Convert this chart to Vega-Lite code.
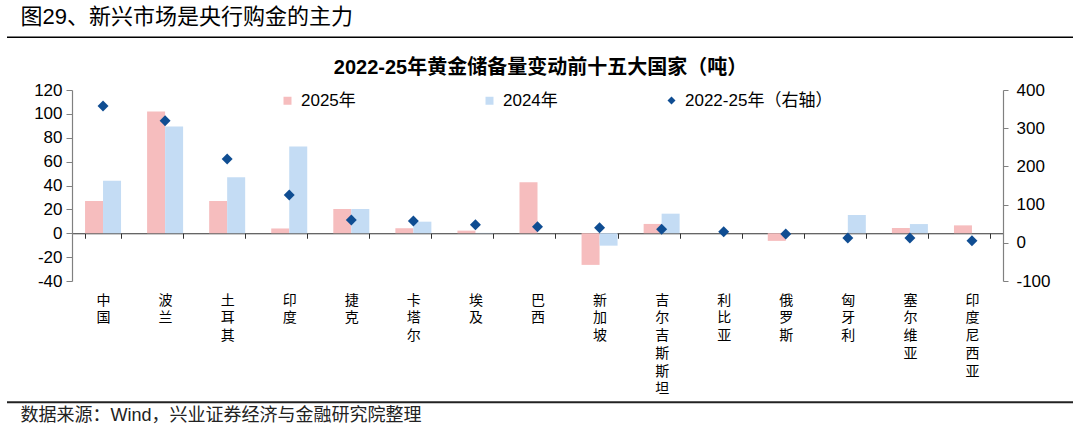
{
  "$schema": "https://vega.github.io/schema/vega-lite/v6.json",
  "width": 1066,
  "height": 191,
  "autosize": {"type": "none"},
  "padding": {"left": 7, "top": 90, "right": 7, "bottom": 151},
  "background": "white",
  "config": {
    "view": {"stroke": null},
    "font": "Liberation Sans, Noto Sans CJK SC",
    "axis": {"labelFont": "Liberation Sans, Noto Sans CJK SC", "titleFont": "Liberation Sans, Noto Sans CJK SC"},
    "legend": {"labelFont": "Liberation Sans, Noto Sans CJK SC"}
  },
  "datasets": {
    "bars": [
      {"country": "中国", "series": "2025年", "value": 27},
      {"country": "中国", "series": "2024年", "value": 44},
      {"country": "波兰", "series": "2025年", "value": 102},
      {"country": "波兰", "series": "2024年", "value": 89.5},
      {"country": "土耳其", "series": "2025年", "value": 27},
      {"country": "土耳其", "series": "2024年", "value": 47},
      {"country": "印度", "series": "2025年", "value": 4},
      {"country": "印度", "series": "2024年", "value": 72.6},
      {"country": "捷克", "series": "2025年", "value": 20.3},
      {"country": "捷克", "series": "2024年", "value": 20.3},
      {"country": "卡塔尔", "series": "2025年", "value": 4.2},
      {"country": "卡塔尔", "series": "2024年", "value": 9.7},
      {"country": "埃及", "series": "2025年", "value": 2.2},
      {"country": "埃及", "series": "2024年", "value": 0.3},
      {"country": "巴西", "series": "2025年", "value": 42.7},
      {"country": "巴西", "series": "2024年", "value": 0},
      {"country": "新加坡", "series": "2025年", "value": -26.5},
      {"country": "新加坡", "series": "2024年", "value": -10.4},
      {"country": "吉尔吉斯斯坦", "series": "2025年", "value": 7.8},
      {"country": "吉尔吉斯斯坦", "series": "2024年", "value": 16.4},
      {"country": "利比亚", "series": "2025年", "value": 0},
      {"country": "利比亚", "series": "2024年", "value": 0},
      {"country": "俄罗斯", "series": "2025年", "value": -6.4},
      {"country": "俄罗斯", "series": "2024年", "value": 0},
      {"country": "匈牙利", "series": "2025年", "value": 0},
      {"country": "匈牙利", "series": "2024年", "value": 15.3},
      {"country": "塞尔维亚", "series": "2025年", "value": 4.4},
      {"country": "塞尔维亚", "series": "2024年", "value": 7.7},
      {"country": "印度尼西亚", "series": "2025年", "value": 6.6},
      {"country": "印度尼西亚", "series": "2024年", "value": 0}
    ],
    "pts": [
      {"country": "中国", "s": "2022-25年（右轴）", "value": 358},
      {"country": "波兰", "s": "2022-25年（右轴）", "value": 319.6},
      {"country": "土耳其", "s": "2022-25年（右轴）", "value": 219.4},
      {"country": "印度", "s": "2022-25年（右轴）", "value": 125},
      {"country": "捷克", "s": "2022-25年（右轴）", "value": 59.7},
      {"country": "卡塔尔", "s": "2022-25年（右轴）", "value": 57},
      {"country": "埃及", "s": "2022-25年（右轴）", "value": 47.4},
      {"country": "巴西", "s": "2022-25年（右轴）", "value": 42.2},
      {"country": "新加坡", "s": "2022-25年（右轴）", "value": 39.5},
      {"country": "吉尔吉斯斯坦", "s": "2022-25年（右轴）", "value": 35.3},
      {"country": "利比亚", "s": "2022-25年（右轴）", "value": 29},
      {"country": "俄罗斯", "s": "2022-25年（右轴）", "value": 23},
      {"country": "匈牙利", "s": "2022-25年（右轴）", "value": 12.6},
      {"country": "塞尔维亚", "s": "2022-25年（右轴）", "value": 12.6},
      {"country": "印度尼西亚", "s": "2022-25年（右轴）", "value": 5.5}
    ]
  },
  "layer": [
    {
      "layer": [
        {
          "data": {"name": "bars"},
          "mark": {"type": "bar"},
          "encoding": {
            "x": {
              "field": "country",
              "type": "nominal",
              "sort": null,
              "scale": {
                "domain": ["中国", "波兰", "土耳其", "印度", "捷克", "卡塔尔", "埃及", "巴西", "新加坡", "吉尔吉斯斯坦", "利比亚", "俄罗斯", "匈牙利", "塞尔维亚", "印度尼西亚"],
                "range": [65, 996],
                "paddingInner": 0.42,
                "paddingOuter": 0.21
              },
              "axis": {
                "orient": "bottom",
                "offset": -47.75,
                "domain": true,
                "domainColor": "#333333",
                "domainWidth": 1,
                "ticks": true,
                "tickBand": "extent",
                "tickSize": 5,
                "tickColor": "#333333",
                "tickWidth": 1,
                "labelAngle": 0,
                "labelExpr": "split(datum.label, '')",
                "labelFont": "Liberation Sans, Noto Sans CJK SC",
                "labelFontSize": 14,
                "labelLineHeight": 17.7,
                "labelPadding": 55,
                "labelBaseline": "top",
                "labelAlign": "center",
                "labelColor": "#000000",
                "labelOverlap": false,
                "labelBound": false,
                "title": "数据来源：Wind，兴业证券经济与金融研究院整理",
                "titleX": 13,
                "titleY": 181.75,
                "titleAlign": "left",
                "titleBaseline": "middle",
                "titleAngle": 0,
                "titleFontSize": 18,
                "titleFontWeight": "normal",
                "titleColor": "#222222"
              }
            },
            "xOffset": {
              "field": "series",
              "type": "nominal",
              "scale": {"domain": ["2025年", "2024年"], "paddingInner": 0, "paddingOuter": 0}
            },
            "y": {
              "field": "value",
              "type": "quantitative",
              "scale": {"domain": [-40, 120], "nice": false, "zero": false},
              "axis": {
                "orient": "left",
                "offset": -65,
                "values": [-40, -20, 0, 20, 40, 60, 80, 100, 120],
                "tickCount": 9,
                "grid": false,
                "domainColor": "#808080",
                "domainWidth": 1.2,
                "tickColor": "#808080",
                "tickSize": 6,
                "labelFontSize": 17,
                "labelPadding": 4,
                "labelColor": "#000000",
                "labelOverlap": false,
                "labelExpr": "'' + datum.value",
                "title": "2022-25年黄金储备量变动前十五大国家（吨）",
                "titleAngle": 0,
                "titleX": 468,
                "titleY": -22.5,
                "titleAlign": "center",
                "titleBaseline": "middle",
                "titleFontSize": 20,
                "titleFontWeight": "bold",
                "titleColor": "#000000"
              }
            },
            "color": {
              "field": "series",
              "type": "nominal",
              "scale": {"domain": ["2025年", "2024年"], "range": ["#F6BDBE", "#C4DCF4"]},
              "legend": {
                "orient": "none",
                "legendX": 272,
                "legendY": 2,
                "direction": "horizontal",
                "title": null,
                "padding": 0,
                "symbolType": "square",
                "symbolSize": 64,
                "symbolStrokeWidth": 0,
                "labelFontSize": 17,
                "labelOffset": 5,
                "labelColor": "#000000",
                "columnPadding": 125
              }
            }
          }
        },
        {
          "data": {"values": [{}]},
          "mark": {"type": "rule", "color": "#000000", "strokeWidth": 1.5},
          "encoding": {"y": {"datum": 164.15, "type": "quantitative", "axis": {"values": [-40, -20, 0, 20, 40, 60, 80, 100, 120], "tickCount": 9, "labelOverlap": false}}}
        },
        {
          "data": {"values": [{}]},
          "mark": {"type": "rule", "color": "#222222", "strokeWidth": 2},
          "encoding": {"y": {"datum": -141.6, "type": "quantitative", "axis": {"values": [-40, -20, 0, 20, 40, 60, 80, 100, 120], "tickCount": 9, "labelOverlap": false}}}
        }
      ]
    },
    {
      "data": {"name": "pts"},
      "mark": {"type": "point", "shape": "diamond", "filled": true, "size": 120, "opacity": 1, "color": "#0F4D92"},
      "encoding": {
        "x": {"field": "country", "type": "nominal", "sort": null},
        "y": {
          "field": "value",
          "type": "quantitative",
          "scale": {"domain": [-100, 400], "nice": false, "zero": false},
          "axis": {
            "orient": "right",
            "offset": -70,
            "values": [-100, 0, 100, 200, 300, 400],
            "grid": false,
            "domainColor": "#808080",
            "domainWidth": 1.2,
            "tickColor": "#808080",
            "tickSize": 5,
            "labelFontSize": 17,
            "labelPadding": 8,
            "labelColor": "#000000",
            "labelOverlap": false,
            "labelExpr": "'' + datum.value",
            "title": "图29、新兴市场是央行购金的主力",
            "titleAngle": 0,
            "titleX": -983,
            "titleY": -74,
            "titleAlign": "left",
            "titleBaseline": "middle",
            "titleFontSize": 22,
            "titleFontWeight": "normal",
            "titleColor": "#000000"
          }
        },
        "shape": {
          "field": "s",
          "type": "nominal",
          "scale": {"domain": ["2022-25年（右轴）"], "range": ["diamond"]},
          "legend": {
            "orient": "none",
            "legendX": 656,
            "legendY": 2,
            "title": null,
            "padding": 0,
            "symbolSize": 64,
            "symbolFillColor": "#0F4D92",
            "symbolStrokeColor": "#0F4D92",
            "symbolStrokeWidth": 0,
            "labelFontSize": 17,
            "labelOffset": 5,
            "labelColor": "#000000"
          }
        }
      }
    }
  ],
  "resolve": {"scale": {"y": "independent"}}
}
